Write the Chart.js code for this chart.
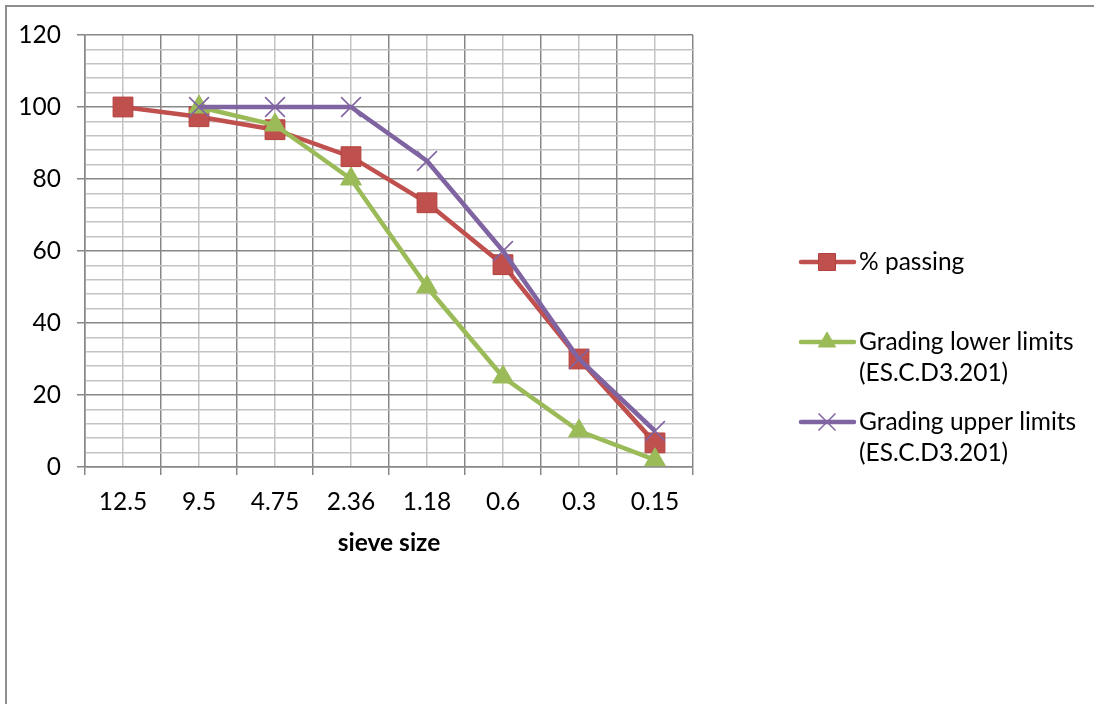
<!DOCTYPE html>
<html>
<head>
<meta charset="utf-8">
<script src="https://cdn.jsdelivr.net/npm/chart.js"></script>
<style>
  html, body { margin: 0; padding: 0; background: #fff; }
  #wrap { width: 1094px; height: 704px; position: relative; }
</style>
</head>
<body>
<div id="wrap"><canvas id="sieveChart"></canvas></div>
<script>
// sieve sizes (mm) shown along the x axis
const sieveSizes = ['12.5', '9.5', '4.75', '2.36', '1.18', '0.6', '0.3', '0.15'];
const percentPassing = [100, 97.3, 93.7, 86.2, 73.4, 56.2, 30, 6.7];
const lowerLimits = [null, 100, 95, 80, 50, 25, 10, 2];
const upperLimits = [null, 100, 100, 100, 85, 60, 30, 10];
const yTicks = [0, 20, 40, 60, 80, 100, 120];

const colors = {
  red: '#C0504D',
  redEdge: '#B5403D',
  green: '#9BBB59',
  purple: '#8064A2',
  gridMajor: '#878787',
  gridMinor: '#C4C4C4',
  frame: '#8E8E8E'
};

const FONT = "Lato, 'Open Sans', sans-serif";
const FONT_SIZE = 24.5;

function toPoints(arr) {
  return arr.map((v, i) => ({ x: i, y: v }));
}

// draws a legend marker the same way the data points look
function drawMarker(ctx, style, x, y, r, fill, stroke, lw) {
  ctx.save();
  ctx.fillStyle = fill;
  ctx.strokeStyle = stroke;
  ctx.lineWidth = lw;
  ctx.beginPath();
  if (style === 'rect') {
    const s = Math.SQRT1_2 * r;
    ctx.rect(x - s, y - s, 2 * s, 2 * s);
    ctx.fill(); ctx.stroke();
  } else if (style === 'triangle') {
    ctx.moveTo(x, y - r);
    ctx.lineTo(x + r * Math.sin(Math.PI / 3), y + r / 2);
    ctx.lineTo(x - r * Math.sin(Math.PI / 3), y + r / 2);
    ctx.closePath();
    ctx.fill(); ctx.stroke();
  } else {
    const d = Math.SQRT1_2 * r;
    ctx.moveTo(x - d, y - d); ctx.lineTo(x + d, y + d);
    ctx.moveTo(x + d, y - d); ctx.lineTo(x - d, y + d);
    ctx.stroke();
  }
  ctx.restore();
}

const legendItems = [
  { lines: ['% passing'], color: colors.red, style: 'rect', r: 12, edge: colors.redEdge, y: 262 },
  { lines: ['Grading lower limits', '(ES.C.D3.201)'], color: colors.green, style: 'triangle', r: 10, edge: colors.green, y: 342 },
  { lines: ['Grading upper limits', '(ES.C.D3.201)'], color: colors.purple, style: 'crossRot', r: 12, edge: colors.purple, y: 422 }
];

const framePlugin = {
  id: 'frameAndLegend',
  beforeDraw(chart) {
    const ctx = chart.ctx;
    ctx.save();
    ctx.strokeStyle = colors.frame;
    ctx.lineWidth = 2;
    ctx.beginPath();
    ctx.moveTo(6, chart.height);
    ctx.lineTo(6, 6);
    ctx.lineTo(chart.width, 6);
    ctx.stroke();
    ctx.restore();
  },
  afterDraw(chart) {
    const ctx = chart.ctx;
    legendItems.forEach(item => {
      ctx.save();
      ctx.strokeStyle = item.color;
      ctx.lineWidth = 4.5;
      ctx.lineCap = 'round';
      ctx.beginPath();
      ctx.moveTo(801, item.y);
      ctx.lineTo(854, item.y);
      ctx.stroke();
      ctx.restore();
      drawMarker(ctx, item.style, 827, item.y, item.r, item.color, item.edge, item.style === 'crossRot' ? 1.5 : 1);
      ctx.save();
      ctx.fillStyle = '#000';
      ctx.font = FONT_SIZE + 'px ' + FONT;
      ctx.textBaseline = 'middle';
      item.lines.forEach((t, i) => ctx.fillText(t, 859, item.y + i * 31));
      ctx.restore();
    });
  }
};

new Chart(document.getElementById('sieveChart'), {
  type: 'line',
  data: {
    datasets: [
      {
        label: '% passing',
        data: toPoints(percentPassing),
        borderColor: colors.red,
        backgroundColor: colors.red,
        borderWidth: 4.5,
        pointStyle: 'rect',
        pointRadius: 14,
        pointBackgroundColor: colors.red,
        pointBorderColor: colors.redEdge,
        pointBorderWidth: 1,
        order: 3
      },
      {
        label: 'Grading lower limits (ES.C.D3.201)',
        data: toPoints(lowerLimits),
        borderColor: colors.green,
        backgroundColor: colors.green,
        borderWidth: 4.5,
        pointStyle: 'triangle',
        pointRadius: 12,
        pointBackgroundColor: colors.green,
        pointBorderColor: colors.green,
        pointBorderWidth: 1,
        order: 2
      },
      {
        label: 'Grading upper limits (ES.C.D3.201)',
        data: toPoints(upperLimits),
        borderColor: colors.purple,
        backgroundColor: colors.purple,
        borderWidth: 4.5,
        pointStyle: 'crossRot',
        pointRadius: 14,
        pointBorderColor: colors.purple,
        pointBorderWidth: 1.5,
        order: 1
      }
    ]
  },
  options: {
    responsive: true,
    maintainAspectRatio: false,
    animation: false,
    events: [],
    layout: { padding: { top: 35, right: 401, bottom: 0, left: 0 } },
    elements: { line: { tension: 0 } },
    scales: {
      x: {
        type: 'linear',
        min: -0.5,
        max: sieveSizes.length - 0.5,
        afterFit(scale) { scale.height = 237; },
        ticks: {
          stepSize: 0.5,
          autoSkip: false,
          maxRotation: 0,
          padding: 12,
          color: '#000',
          font: { family: FONT, size: FONT_SIZE },
          callback: v => Number.isInteger(v) ? sieveSizes[v] : ''
        },
        grid: {
          color: c => Number.isInteger(c.tick.value) ? colors.gridMinor : colors.gridMajor,
          tickColor: c => Number.isInteger(c.tick.value) ? 'rgba(0,0,0,0)' : colors.gridMajor,
          lineWidth: 1.5,
          tickLength: 8
        },
        border: { color: colors.gridMajor, width: 1.5 },
        title: {
          display: true,
          text: 'sieve size',
          color: '#000',
          font: { family: FONT, size: FONT_SIZE, weight: 'bold' },
          padding: { top: 0, bottom: 146 }
        }
      },
      y: {
        min: 0,
        max: 120,
        afterFit(scale) { scale.width = 85; },
        ticks: {
          stepSize: 4,
          autoSkip: false,
          padding: 16,
          color: '#000',
          font: { family: FONT, size: FONT_SIZE },
          callback: v => yTicks.includes(v) ? String(v) : ''
        },
        grid: {
          color: c => yTicks.includes(c.tick.value) ? colors.gridMajor : colors.gridMinor,
          tickColor: c => yTicks.includes(c.tick.value) ? colors.gridMajor : 'rgba(0,0,0,0)',
          lineWidth: 1.5,
          tickLength: 8
        },
        border: { color: colors.gridMajor, width: 1.5 }
      }
    },
    plugins: {
      legend: { display: false },
      tooltip: { enabled: false }
    }
  },
  plugins: [framePlugin]
});
</script>
</body>
</html>
